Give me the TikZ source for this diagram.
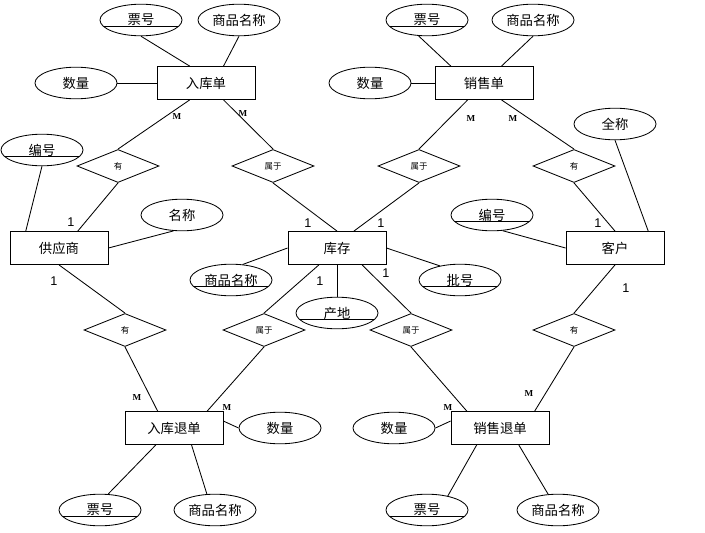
\documentclass[tikz,border=0pt]{standalone}
\usepackage{fontspec}
\setmainfont{Liberation Serif}
\setsansfont{Liberation Sans}
\newfontfamily\cjk{Noto Sans CJK SC}
\usetikzlibrary{shapes.geometric}

\begin{document}
\begin{tikzpicture}[x=0.025cm,y=-0.025cm,line width=0.6pt]
% Styles
\tikzset{entity/.style={draw,rectangle,minimum width=2.45cm,minimum height=0.825cm,inner sep=0pt,font=\cjk\fontsize{9.5}{11}\selectfont}}
\tikzset{attr/.style={draw,ellipse,minimum width=2.05cm,minimum height=0.79cm,inner sep=0pt,font=\cjk\fontsize{9.5}{11}\selectfont}}
\tikzset{key/.style={attr,path picture={\draw (path picture bounding box.west) ++(0,6) -- ++(120,0);}}}
\tikzset{rel/.style={draw,diamond,minimum width=2.05cm,minimum height=0.825cm,inner sep=0pt,font=\cjk\fontsize{6}{7}\selectfont}}
\tikzset{mlab/.style={inner sep=0pt,font=\bfseries\fontsize{6.5}{7}\selectfont}}
\tikzset{olab/.style={inner sep=0pt,font=\sffamily\fontsize{9}{10}\selectfont}}
\useasboundingbox (0,0) rectangle (705,533);

% Entities
\node[entity] (rkd) at (206,83) {入库单};
\node[entity] (xsd) at (484,83) {销售单};
\node[entity] (gys) at (59,248) {供应商};
\node[entity] (kc) at (337,248) {库存};
\node[entity] (kh) at (615,248) {客户};
\node[entity] (rktd) at (174,428) {入库退单};
\node[entity] (xstd) at (500,428) {销售退单};

% Attributes
\node[key] (rkdph) at (141,20) {票号};
\node[attr] (rkdmc) at (239,20) {商品名称};
\node[attr] (rkdsl) at (76,83) {数量};
\node[key] (xsdph) at (427,20) {票号};
\node[attr] (xsdmc) at (533,20) {商品名称};
\node[attr] (xsdsl) at (370,83) {数量};
\node[key] (gysbh) at (42,150) {编号};
\node[attr] (gysmc) at (182,215) {名称};
\node[attr] (khqc) at (615,124) {全称};
\node[key] (khbh) at (492,215) {编号};
\node[key] (kcmc) at (231,280) {商品名称};
\node[key] (kcph) at (460,280) {批号};
\node[key] (kccd) at (337,313) {产地};
\node[attr] (rktdsl) at (280,428) {数量};
\node[key] (rktdph) at (100,510) {票号};
\node[attr] (rktdmc) at (215,510) {商品名称};
\node[attr] (xstdsl) at (394,428) {数量};
\node[key] (xstdph) at (427,510) {票号};
\node[attr] (xstdmc) at (558,510) {商品名称};

% Relationships
\node[rel] (you1) at (118,166) {有};
\node[rel] (sy1) at (273,166) {属于};
\node[rel] (sy2) at (419,166) {属于};
\node[rel] (you2) at (574,166) {有};
\node[rel] (you3) at (125,330) {有};
\node[rel] (sy3) at (264,330) {属于};
\node[rel] (sy4) at (411,330) {属于};
\node[rel] (you4) at (574,330) {有};

% Attribute lines
\draw (rkdph.south) -- (rkd.134);
\draw (rkdmc.south) -- (rkd.44);
\draw (rkdsl.east) -- (rkd.west);
\draw (xsdph.-118) -- (xsd.153);
\draw (xsdmc.south) -- (xsd.44);
\draw (xsdsl.east) -- (xsd.west);
\draw (gysbh.south) -- (gys.153);
\draw (gysmc.-118) -- (gys.east);
\draw (khqc.south) -- (kh.27);
\draw (khbh.-56) -- (kh.west);
\draw (kcmc.53) -- (kc.west);
\draw (kcph.145) -- (kc.east);
\draw (kccd.north) -- (kc.south);
\draw (rktdsl.west) -- (rktd.8);
\draw (rktdph.63) -- (rktd.-137);
\draw (rktdmc.117) -- (rktd.-44);
\draw (xstdsl.east) -- (xstd.172);
\draw (xstdph.34) -- (xstd.-144);
\draw (xstdmc.122) -- (xstd.-42);

% Relationship lines
\draw (rkd.-134) -- (you1.north);
\draw (you1.south) -- (gys.42);
\draw (rkd.-44) -- (sy1.north);
\draw (sy1.south) -- (kc.north);
\draw (kc.45) -- (sy2.south);
\draw (xsd.-134) -- (sy2.north);
\draw (xsd.-44) -- (you2.north);
\draw (you2.south) -- (kh.north);
\draw (gys.south) -- (you3.north);
\draw (you3.south) -- (rktd.134);
\draw (kc.-137) -- (sy3.north);
\draw (sy3.south) -- (rktd.27);
\draw (kc.-34) -- (sy4.north);
\draw (sy4.south) -- (xstd.153);
\draw (kh.south) -- (you4.north);
\draw (you4.south) -- (xstd.26);

% Cardinalities
\foreach \x/\y [count=\i] in {177/117,243/114,471/119,513/119,137/398,227/408,448/408,529/394}
  \node[mlab] (m\i) at (\x,\y) {M};
\foreach \x/\y [count=\i] in {71/222,308/223,381/223,598/223,54/281,320/281,386/273,626/288}
  \node[olab] (o\i) at (\x,\y) {1};
\end{tikzpicture}
\end{document}
